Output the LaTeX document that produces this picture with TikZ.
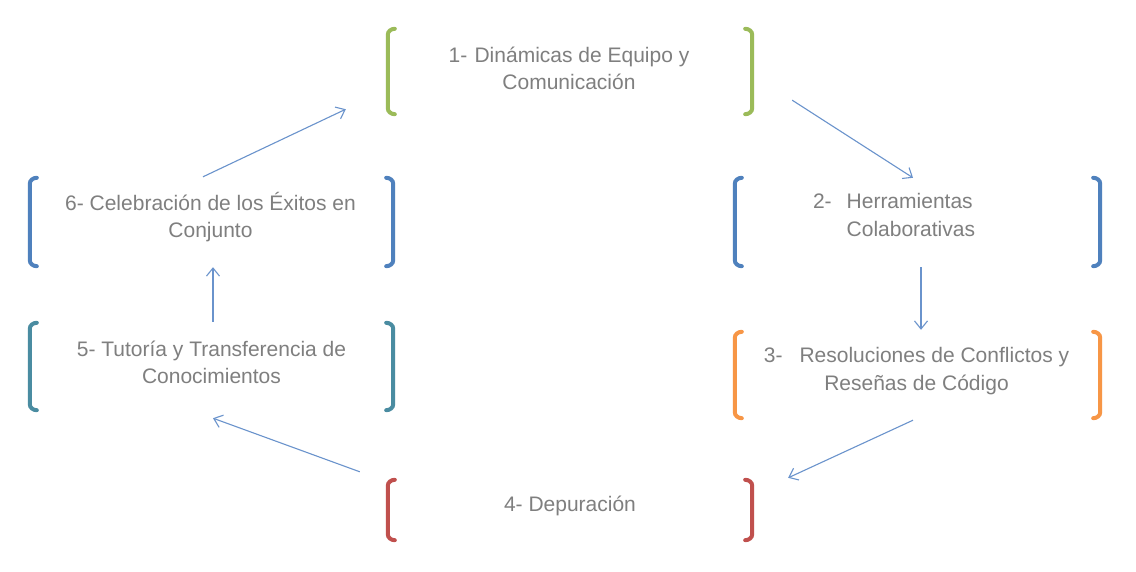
\documentclass[tikz,border=0pt]{standalone}
\usepackage{fontspec}
\setmainfont{Liberation Sans}
\usetikzlibrary{arrows.meta}
\definecolor{txtgray}{HTML}{7F7F7F}
\definecolor{cgreen}{HTML}{9BBB59}
\definecolor{cblue}{HTML}{4F81BD}
\definecolor{cteal}{HTML}{4A8CA1}
\definecolor{corange}{HTML}{F79646}
\definecolor{cred}{HTML}{C0504D}
\definecolor{arrowblue}{HTML}{6A93CC}
\tikzset{
  bbox/.style={draw=none, inner sep=0pt, minimum width=#1},
  bbox/.default=364pt,
  btext/.style={font=\fontsize{21}{27.5}\selectfont, text=txtgray, align=center, inner sep=0pt},
  flow/.style={draw=arrowblue, line width=1.1pt, -{Straight Barb[length=8pt,width=13pt,line width=1.1pt]}},
  brk/.style={line width=4pt, line cap=round},
}
\newcommand{\brackets}[2]{%
  \draw[brk,#2] ([xshift=7pt]#1.north west) to[out=180,in=90] ([yshift=-6pt]#1.north west)
     -- ([yshift=6pt]#1.south west) to[out=-90,in=180] ([xshift=7pt]#1.south west);
  \draw[brk,#2] ([xshift=-7pt]#1.north east) to[out=0,in=90] ([yshift=-6pt]#1.north east)
     -- ([yshift=6pt]#1.south east) to[out=-90,in=0] ([xshift=-7pt]#1.south east);
}
\begin{document}
\begin{tikzpicture}[x=1pt,y=1pt]
\useasboundingbox[fill=white] (0,0) rectangle (1136,-572);
% boxes
\node[bbox, minimum height=85pt] (b1) at (570,-71.5) {};
\node[bbox=363pt, minimum height=88pt] (b6) at (211.5,-222) {};
\node[bbox=365pt, minimum height=88pt] (b2) at (917.5,-222) {};
\node[bbox=363pt, minimum height=87pt] (b5) at (211.5,-366.5) {};
\node[bbox=365pt, minimum height=86pt] (b3) at (917.5,-375) {};
\node[bbox, minimum height=60pt] (b4) at (570,-510) {};
% texts
\node[btext] (t1) at ([xshift=-1pt,yshift=3pt]b1.center) {1-\hspace{7.3pt}Dinámicas de Equipo y\\Comunicación};
\node[btext] (t6) at ([xshift=-1pt,yshift=5pt]b6.center) {6- Celebración de los Éxitos en\\Conjunto};
\node[btext, anchor=west] (t2) at ([xshift=78pt,yshift=5pt]b2.west) {\begin{tabular}{@{}l@{\hspace{15pt}}l@{}}2- & Herramientas\\ & Colaborativas\end{tabular}};
\node[btext] (t5) at ([yshift=4pt]b5.center) {5- Tutoría y Transferencia de\\Conocimientos};
\node[btext] (t3) at ([xshift=-1pt,yshift=4pt]b3.center) {3-\hspace{17pt}Resoluciones de Conflictos y\\Reseñas de Código};
\node[btext] (t4) at ([yshift=4.5pt]b4.center) {4- Depuración};
% brackets
\brackets{b1}{cgreen}
\brackets{b6}{cblue}
\brackets{b2}{cblue}
\brackets{b5}{cteal}
\brackets{b3}{corange}
\brackets{b4}{cred}
% connectors
\draw[flow] ([xshift=40pt,yshift=14pt]b1.south east) -- ([xshift=-4.5pt]b2.north);
\draw[flow] ([xshift=3.5pt,yshift=-1pt]b2.south) -- ([xshift=3.5pt,yshift=2pt]b3.north);
\draw[flow] ([xshift=-4.5pt,yshift=-2pt]b3.south) -- ([xshift=36pt,yshift=2pt]b4.north east);
\draw[flow] ([xshift=-28pt,yshift=8pt]b4.north west) -- ([xshift=1.5pt,yshift=-8pt]b5.south);
\draw[flow] ([xshift=1.5pt,yshift=1pt]b5.north) -- ([xshift=1.5pt,yshift=-1pt]b6.south);
\draw[flow] ([xshift=-8.5pt,yshift=1pt]b6.north) -- ([xshift=-42pt,yshift=5pt]b1.south west);
\end{tikzpicture}
\end{document}
